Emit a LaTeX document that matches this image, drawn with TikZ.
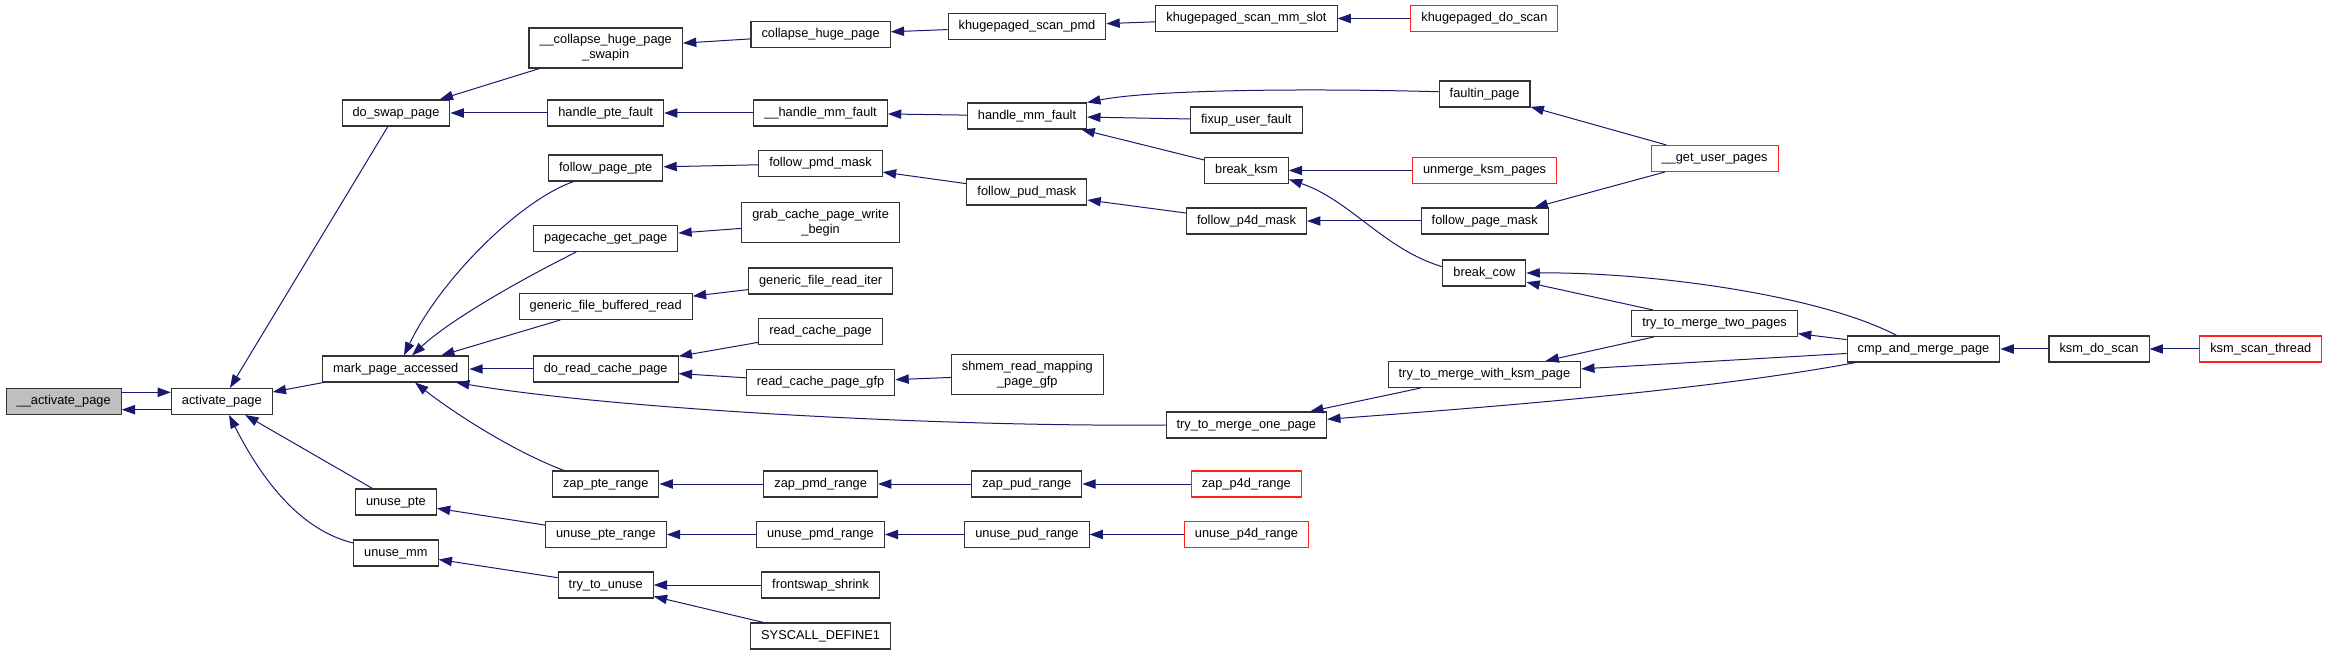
\documentclass[tikz,border=0pt]{standalone}
\usepackage{fontspec}
\setmainfont{Liberation Sans}
\usepackage{xcolor}
\usepackage{tikz}
\usetikzlibrary{arrows.meta}
\definecolor{edgeblue}{HTML}{191970}
\definecolor{boxline}{HTML}{333333}
\definecolor{cutred}{HTML}{FF2020}
\definecolor{selgray}{HTML}{BFBFBF}
\tikzset{
  ar/.style={{Triangle[length=10pt,width=7pt]}-,draw=edgeblue,line width=0.75pt},
  fnbase/.style={draw=boxline,line width=0.8pt,fill=white,inner xsep=7.9pt,font=\fontsize{9.6}{11.25}\selectfont},
  fn/.style={fnbase,minimum height=19.5pt,inner ysep=0pt,text height=7pt,text depth=2.2pt},
  fntwo/.style={fnbase,align=center,inner ysep=4.9pt},
  cut/.style={draw=cutred}
}
\begin{document}
\begin{tikzpicture}[x=0.75pt,y=-0.75pt]
\useasboundingbox (0,0) rectangle (2329,655);
% column 1-3
\node[fn,fill=selgray] (uap) at (63.7,401.5) {\_\_activate\_page};
\node[fn] (act) at (221.8,401.5) {activate\_page};
\node[fn] (dsp) at (396,113) {do\_swap\_page};
\node[fn] (mark) at (395.7,369) {mark\_page\_accessed};
\node[fn] (upte) at (395.9,502) {unuse\_pte};
\node[fn] (umm) at (395.9,553) {unuse\_mm};
% column 4
\node[fntwo] (cswap) at (605.7,48) {\_\_collapse\_huge\_page\\\_swapin};
\node[fn] (hpf) at (605.7,113) {handle\_pte\_fault};
\node[fn] (fpp) at (605.7,168) {follow\_page\_pte};
\node[fn] (pcgp) at (605.7,238.5) {pagecache\_get\_page};
\node[fn] (gfbr) at (605.7,306.5) {generic\_file\_buffered\_read};
\node[fn] (drcp) at (605.7,369) {do\_read\_cache\_page};
\node[fn] (zpte) at (605.7,484) {zap\_pte\_range};
\node[fn] (uptr) at (605.9,534.5) {unuse\_pte\_range};
\node[fn] (ttu) at (605.7,585) {try\_to\_unuse};
% column 5
\node[fn] (chp) at (820.6,34.5) {collapse\_huge\_page};
\node[fn] (uhmf) at (820.6,113) {\_\_handle\_mm\_fault};
\node[fn] (fpmd) at (820.5,163.5) {follow\_pmd\_mask};
\node[fntwo] (gcpwb) at (820.6,222.5) {grab\_cache\_page\_write\\\_begin};
\node[fn] (gfri) at (820.6,281) {generic\_file\_read\_iter};
\node[fn] (rcp) at (820.6,331.5) {read\_cache\_page};
\node[fn] (rcpg) at (820.6,382.5) {read\_cache\_page\_gfp};
\node[fn] (zpmd) at (820.7,484) {zap\_pmd\_range};
\node[fn] (upmd) at (820.4,534.5) {unuse\_pmd\_range};
\node[fn] (fss) at (820.6,585) {frontswap\_shrink};
\node[fn] (sysd) at (820.6,636) {SYSCALL\_DEFINE1};
% column 6
\node[fn] (kspmd) at (1027,26.5) {khugepaged\_scan\_pmd};
\node[fn] (hmf) at (1027,116) {handle\_mm\_fault};
\node[fn] (fpud) at (1026.9,192) {follow\_pud\_mask};
\node[fntwo] (shmem) at (1027.3,374.5) {shmem\_read\_mapping\\\_page\_gfp};
\node[fn] (zpud) at (1026.8,484) {zap\_pud\_range};
\node[fn] (upud) at (1026.9,534.5) {unuse\_pud\_range};
% column 7
\node[fn] (ksslot) at (1246.5,18.5) {khugepaged\_scan\_mm\_slot};
\node[fn] (fuf) at (1246.3,120) {fixup\_user\_fault};
\node[fn] (bksm) at (1246.5,170.5) {break\_ksm};
\node[fn] (fp4d) at (1246.5,221) {follow\_p4d\_mask};
\node[fn] (tmop) at (1246.3,425) {try\_to\_merge\_one\_page};
\node[fn,cut] (zp4d) at (1246.3,484) {zap\_p4d\_range};
\node[fn,cut] (up4d) at (1246.5,534.5) {unuse\_p4d\_range};
% column 8
\node[fn,cut] (kdos) at (1484.4,18.5) {khugepaged\_do\_scan};
\node[fn] (fp) at (1484.6,94) {faultin\_page};
\node[fn,cut] (umkp) at (1484.6,170.5) {unmerge\_ksm\_pages};
\node[fn] (fpm) at (1484.7,221) {follow\_page\_mask};
\node[fn] (bcow) at (1484.4,273) {break\_cow};
\node[fn] (twkp) at (1484.4,374.5) {try\_to\_merge\_with\_ksm\_page};
% columns 9-12
\node[fn,cut] (gup) at (1714.6,158.5) {\_\_get\_user\_pages};
\node[fn] (ttwo) at (1714.6,323.5) {try\_to\_merge\_two\_pages};
\node[fn] (cmp) at (1923.5,349) {cmp\_and\_merge\_page};
\node[fn] (kds) at (2099,349) {ksm\_do\_scan};
\node[fn,cut] (kst) at (2260.8,349) {ksm\_scan\_thread};

% edges, arrow at the callee
\draw[ar] ([yshift=6.9pt]act.west) -- ([yshift=6.9pt]uap.east);
\draw[ar] ([yshift=-6.15pt]uap.east) -- ([yshift=-6.15pt]act.west);
\draw[ar] (act) -- (dsp);
\draw[ar] (act) -- (mark);
\draw[ar] (act) -- (upte);
\draw[ar] ([xshift=5.4pt]act.south) .. controls (262,480) and (300,530) .. ([yshift=7.5pt]umm.west);
\draw[ar] (dsp) -- (cswap);
\draw[ar] (dsp) -- (hpf);
\draw[ar] ([xshift=6.2pt]mark.north) .. controls (440,280) and (520,200) .. ([xshift=19.3pt]fpp.south west);
\draw[ar] ([xshift=12.2pt]mark.north) .. controls (450,320) and (520,280) .. ([xshift=32.4pt]pcgp.south west);
\draw[ar] (mark) -- (gfbr);
\draw[ar] (mark) -- (drcp);
\draw[ar] ([xshift=-10pt]mark.south east) .. controls (620,410) and (950,427) .. (tmop.west);
\draw[ar] ([xshift=14.5pt]mark.south) .. controls (450,410) and (510,450) .. ([xshift=9pt]zpte.north west);
\draw[ar] (upte) -- (uptr);
\draw[ar] (umm) -- (ttu);
\draw[ar] (cswap) -- (chp);
\draw[ar] (chp) -- (kspmd);
\draw[ar] (kspmd) -- (ksslot);
\draw[ar] (ksslot) -- (kdos);
\draw[ar] (hpf) -- (uhmf);
\draw[ar] (uhmf) -- (hmf);
\draw[ar] (hmf.north east) .. controls (1150,90) and (1300,88) .. ([yshift=1.7pt]fp.west);
\draw[ar] (hmf) -- (fuf);
\draw[ar] (hmf) -- (bksm);
\draw[ar] (fp) -- (gup);
\draw[ar] (bksm) -- (umkp);
\draw[ar] ([yshift=3.5pt]bksm.south east) .. controls (1350,200) and (1385,250) .. ([yshift=4.7pt]bcow.west);
\draw[ar] (fpp) -- (fpmd);
\draw[ar] (fpmd) -- (fpud);
\draw[ar] (fpud) -- (fp4d);
\draw[ar] (fp4d) -- (fpm);
\draw[ar] (fpm) -- (gup);
\draw[ar] (pcgp) -- (gcpwb);
\draw[ar] (gfbr) -- (gfri);
\draw[ar] (drcp) -- (rcp);
\draw[ar] (drcp) -- (rcpg);
\draw[ar] (rcpg) -- (shmem);
\draw[ar] (bcow.east) .. controls (1650,272) and (1820,295) .. ([xshift=37.5pt]cmp.north west);
\draw[ar] (bcow) -- (ttwo);
\draw[ar] (ttwo) -- (cmp);
\draw[ar] (twkp) -- (ttwo);
\draw[ar] (twkp) -- (cmp);
\draw[ar] (tmop) -- (twkp);
\draw[ar] ([yshift=4.3pt]tmop.east) .. controls (1450,410) and (1700,392) .. ([xshift=6.75pt]cmp.south west);
\draw[ar] (cmp) -- (kds);
\draw[ar] (kds) -- (kst);
\draw[ar] (zpte) -- (zpmd);
\draw[ar] (zpmd) -- (zpud);
\draw[ar] (zpud) -- (zp4d);
\draw[ar] (uptr) -- (upmd);
\draw[ar] (upmd) -- (upud);
\draw[ar] (upud) -- (up4d);
\draw[ar] (ttu) -- (fss);
\draw[ar] (ttu) -- (sysd);
\end{tikzpicture}
\end{document}
